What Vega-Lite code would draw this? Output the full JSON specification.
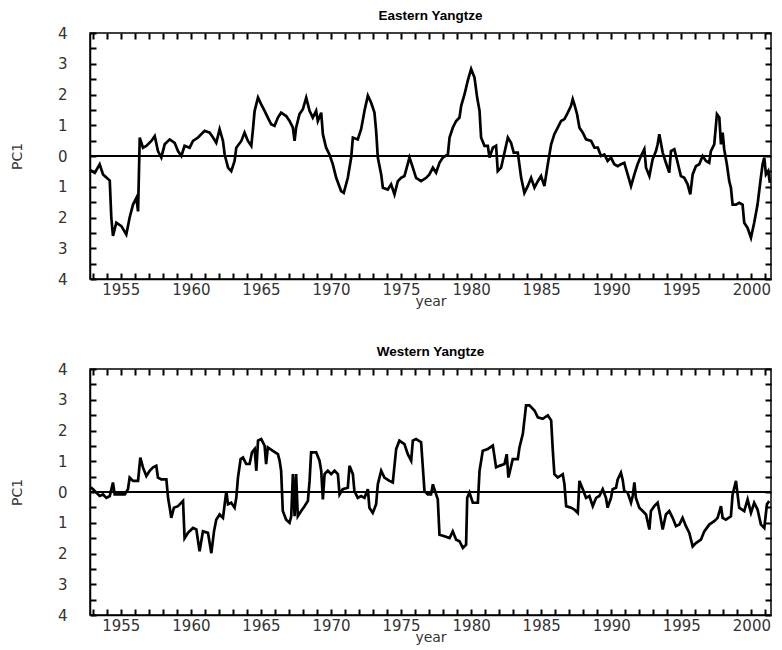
{
  "$schema": "https://vega.github.io/schema/vega-lite/v6.json",
  "background": "white",
  "padding": {"left": 9, "top": 7, "right": 5, "bottom": 5},
  "spacing": 34,
  "config": {
    "view": {"stroke": "black", "strokeWidth": 1.5},
    "font": "Liberation Sans",
    "title": {"fontSize": 13.5, "fontWeight": "bold", "font": "Liberation Sans", "color": "black", "offset": 4},
    "axis": {"domainColor": "black", "domainWidth": 1.5, "tickColor": "black", "tickWidth": 2, "tickOpacity": 1, "labelColor": "#333", "titleColor": "#333", "grid": false, "labelFont": "DejaVu Sans", "labelFontSize": 15, "titleFont": "DejaVu Sans", "titleFontSize": 14, "titleFontWeight": "normal", "labelOverlap": false, "labelFlush": false}
  },
  "datasets": {
    "east": [
      {"year": 1952.80, "pc1": -0.45}, {"year": 1953.14, "pc1": -0.55}, {"year": 1953.49, "pc1": -0.27}, {"year": 1953.73, "pc1": -0.6},
      {"year": 1953.97, "pc1": -0.7}, {"year": 1954.21, "pc1": -0.8}, {"year": 1954.32, "pc1": -2.0}, {"year": 1954.44, "pc1": -2.6},
      {"year": 1954.68, "pc1": -2.17}, {"year": 1955.04, "pc1": -2.28}, {"year": 1955.39, "pc1": -2.55}, {"year": 1955.63, "pc1": -2.0},
      {"year": 1955.87, "pc1": -1.58}, {"year": 1956.11, "pc1": -1.36}, {"year": 1956.23, "pc1": -1.8}, {"year": 1956.35, "pc1": 0.6},
      {"year": 1956.58, "pc1": 0.27}, {"year": 1956.82, "pc1": 0.33}, {"year": 1957.18, "pc1": 0.49}, {"year": 1957.42, "pc1": 0.65},
      {"year": 1957.65, "pc1": 0.16}, {"year": 1957.89, "pc1": -0.05}, {"year": 1958.13, "pc1": 0.38}, {"year": 1958.49, "pc1": 0.54},
      {"year": 1958.84, "pc1": 0.43}, {"year": 1959.08, "pc1": 0.16}, {"year": 1959.32, "pc1": 0.0}, {"year": 1959.55, "pc1": 0.33},
      {"year": 1959.91, "pc1": 0.27}, {"year": 1960.15, "pc1": 0.49}, {"year": 1960.51, "pc1": 0.6}, {"year": 1960.98, "pc1": 0.82},
      {"year": 1961.34, "pc1": 0.76}, {"year": 1961.58, "pc1": 0.6}, {"year": 1961.81, "pc1": 0.43}, {"year": 1962.05, "pc1": 0.87},
      {"year": 1962.29, "pc1": 0.49}, {"year": 1962.41, "pc1": 0.05}, {"year": 1962.65, "pc1": -0.38}, {"year": 1962.88, "pc1": -0.49},
      {"year": 1963.12, "pc1": -0.16}, {"year": 1963.24, "pc1": 0.27}, {"year": 1963.60, "pc1": 0.49}, {"year": 1963.83, "pc1": 0.76},
      {"year": 1964.07, "pc1": 0.49}, {"year": 1964.31, "pc1": 0.33}, {"year": 1964.43, "pc1": 0.87}, {"year": 1964.55, "pc1": 1.47},
      {"year": 1964.79, "pc1": 1.9}, {"year": 1965.02, "pc1": 1.68}, {"year": 1965.26, "pc1": 1.47}, {"year": 1965.49, "pc1": 1.25},
      {"year": 1965.73, "pc1": 1.03}, {"year": 1965.97, "pc1": 0.98}, {"year": 1966.21, "pc1": 1.25}, {"year": 1966.44, "pc1": 1.41},
      {"year": 1966.80, "pc1": 1.3}, {"year": 1967.04, "pc1": 1.14}, {"year": 1967.28, "pc1": 0.92}, {"year": 1967.40, "pc1": 0.49},
      {"year": 1967.51, "pc1": 0.92}, {"year": 1967.75, "pc1": 1.36}, {"year": 1967.99, "pc1": 1.52}, {"year": 1968.23, "pc1": 1.9},
      {"year": 1968.47, "pc1": 1.47}, {"year": 1968.70, "pc1": 1.25}, {"year": 1968.94, "pc1": 1.47}, {"year": 1969.06, "pc1": 1.14},
      {"year": 1969.30, "pc1": 1.41}, {"year": 1969.42, "pc1": 0.71}, {"year": 1969.65, "pc1": 0.27}, {"year": 1969.89, "pc1": 0.05},
      {"year": 1970.13, "pc1": -0.27}, {"year": 1970.37, "pc1": -0.71}, {"year": 1970.72, "pc1": -1.14}, {"year": 1970.91, "pc1": -1.2},
      {"year": 1971.20, "pc1": -0.71}, {"year": 1971.44, "pc1": -0.05}, {"year": 1971.56, "pc1": 0.6}, {"year": 1971.91, "pc1": 0.54},
      {"year": 1972.15, "pc1": 0.87}, {"year": 1972.39, "pc1": 1.47}, {"year": 1972.63, "pc1": 1.96}, {"year": 1972.86, "pc1": 1.74},
      {"year": 1973.10, "pc1": 1.41}, {"year": 1973.22, "pc1": 0.82}, {"year": 1973.34, "pc1": -0.05}, {"year": 1973.58, "pc1": -0.6},
      {"year": 1973.70, "pc1": -1.03}, {"year": 1974.05, "pc1": -1.09}, {"year": 1974.29, "pc1": -0.92}, {"year": 1974.53, "pc1": -1.25},
      {"year": 1974.77, "pc1": -0.82}, {"year": 1975.00, "pc1": -0.71}, {"year": 1975.24, "pc1": -0.65}, {"year": 1975.60, "pc1": -0.05},
      {"year": 1975.84, "pc1": -0.38}, {"year": 1976.07, "pc1": -0.71}, {"year": 1976.43, "pc1": -0.82}, {"year": 1976.79, "pc1": -0.71},
      {"year": 1977.02, "pc1": -0.6}, {"year": 1977.27, "pc1": -0.38}, {"year": 1977.50, "pc1": -0.54}, {"year": 1977.74, "pc1": -0.22},
      {"year": 1977.98, "pc1": -0.05}, {"year": 1978.34, "pc1": 0.05}, {"year": 1978.46, "pc1": 0.6}, {"year": 1978.69, "pc1": 0.92},
      {"year": 1978.93, "pc1": 1.14}, {"year": 1979.17, "pc1": 1.25}, {"year": 1979.29, "pc1": 1.63}, {"year": 1979.53, "pc1": 2.01},
      {"year": 1979.76, "pc1": 2.45}, {"year": 1980.00, "pc1": 2.83}, {"year": 1980.24, "pc1": 2.55}, {"year": 1980.43, "pc1": 1.9},
      {"year": 1980.60, "pc1": 1.47}, {"year": 1980.71, "pc1": 0.6}, {"year": 1980.95, "pc1": 0.33}, {"year": 1981.19, "pc1": 0.33},
      {"year": 1981.31, "pc1": -0.05}, {"year": 1981.55, "pc1": 0.27}, {"year": 1981.78, "pc1": 0.33}, {"year": 1981.90, "pc1": -0.49},
      {"year": 1982.14, "pc1": -0.38}, {"year": 1982.38, "pc1": 0.11}, {"year": 1982.62, "pc1": 0.6}, {"year": 1982.85, "pc1": 0.43},
      {"year": 1983.04, "pc1": 0.11}, {"year": 1983.33, "pc1": 0.11}, {"year": 1983.57, "pc1": -0.71}, {"year": 1983.80, "pc1": -1.2},
      {"year": 1984.04, "pc1": -0.98}, {"year": 1984.28, "pc1": -0.71}, {"year": 1984.52, "pc1": -1.03}, {"year": 1984.76, "pc1": -0.82},
      {"year": 1984.99, "pc1": -0.65}, {"year": 1985.23, "pc1": -0.98}, {"year": 1985.47, "pc1": -0.27}, {"year": 1985.71, "pc1": 0.38},
      {"year": 1985.94, "pc1": 0.71}, {"year": 1986.18, "pc1": 0.92}, {"year": 1986.42, "pc1": 1.14}, {"year": 1986.66, "pc1": 1.2},
      {"year": 1986.90, "pc1": 1.41}, {"year": 1987.13, "pc1": 1.63}, {"year": 1987.25, "pc1": 1.85}, {"year": 1987.37, "pc1": 1.68},
      {"year": 1987.56, "pc1": 1.36}, {"year": 1987.73, "pc1": 0.92}, {"year": 1987.97, "pc1": 0.76}, {"year": 1988.20, "pc1": 0.54},
      {"year": 1988.56, "pc1": 0.49}, {"year": 1988.80, "pc1": 0.27}, {"year": 1989.04, "pc1": 0.27}, {"year": 1989.27, "pc1": 0.0},
      {"year": 1989.51, "pc1": 0.05}, {"year": 1989.74, "pc1": -0.16}, {"year": 1989.98, "pc1": -0.05}, {"year": 1990.22, "pc1": -0.27},
      {"year": 1990.46, "pc1": -0.33}, {"year": 1990.69, "pc1": -0.27}, {"year": 1990.93, "pc1": -0.22}, {"year": 1991.17, "pc1": -0.6},
      {"year": 1991.41, "pc1": -0.98}, {"year": 1991.65, "pc1": -0.6}, {"year": 1991.88, "pc1": -0.27}, {"year": 1992.12, "pc1": 0.0},
      {"year": 1992.36, "pc1": 0.22}, {"year": 1992.48, "pc1": -0.38}, {"year": 1992.72, "pc1": -0.65}, {"year": 1992.95, "pc1": -0.11},
      {"year": 1993.19, "pc1": 0.16}, {"year": 1993.31, "pc1": 0.38}, {"year": 1993.43, "pc1": 0.71}, {"year": 1993.67, "pc1": 0.11},
      {"year": 1993.90, "pc1": -0.22}, {"year": 1994.14, "pc1": -0.54}, {"year": 1994.26, "pc1": 0.16}, {"year": 1994.50, "pc1": 0.22},
      {"year": 1994.74, "pc1": -0.22}, {"year": 1994.97, "pc1": -0.65}, {"year": 1995.21, "pc1": -0.71}, {"year": 1995.45, "pc1": -0.92},
      {"year": 1995.64, "pc1": -1.25}, {"year": 1995.81, "pc1": -0.6}, {"year": 1996.04, "pc1": -0.33}, {"year": 1996.28, "pc1": -0.27},
      {"year": 1996.52, "pc1": 0.0}, {"year": 1996.76, "pc1": -0.16}, {"year": 1996.99, "pc1": -0.22}, {"year": 1997.11, "pc1": 0.16},
      {"year": 1997.35, "pc1": 0.38}, {"year": 1997.54, "pc1": 1.36}, {"year": 1997.71, "pc1": 1.25}, {"year": 1997.83, "pc1": 0.38},
      {"year": 1997.95, "pc1": 0.76}, {"year": 1998.06, "pc1": 0.22}, {"year": 1998.25, "pc1": -0.27}, {"year": 1998.42, "pc1": -0.82},
      {"year": 1998.54, "pc1": -1.03}, {"year": 1998.66, "pc1": -1.58}, {"year": 1998.90, "pc1": -1.58}, {"year": 1999.13, "pc1": -1.52},
      {"year": 1999.37, "pc1": -1.58}, {"year": 1999.49, "pc1": -2.17}, {"year": 1999.73, "pc1": -2.34}, {"year": 1999.97, "pc1": -2.66},
      {"year": 2000.20, "pc1": -2.17}, {"year": 2000.44, "pc1": -1.58}, {"year": 2000.63, "pc1": -0.87}, {"year": 2000.80, "pc1": -0.27},
      {"year": 2000.92, "pc1": -0.05}, {"year": 2001.04, "pc1": -0.6}, {"year": 2001.20, "pc1": -0.49}, {"year": 2001.32, "pc1": -0.87}
    ],
    "west": [
      {"year": 1952.85, "pc1": 0.15}, {"year": 1953.02, "pc1": 0.09}, {"year": 1953.25, "pc1": -0.02}, {"year": 1953.49, "pc1": -0.13},
      {"year": 1953.73, "pc1": -0.08}, {"year": 1953.97, "pc1": -0.19}, {"year": 1954.21, "pc1": -0.13}, {"year": 1954.44, "pc1": 0.31},
      {"year": 1954.56, "pc1": -0.08}, {"year": 1954.92, "pc1": -0.08}, {"year": 1955.28, "pc1": -0.08}, {"year": 1955.51, "pc1": 0.09},
      {"year": 1955.63, "pc1": 0.47}, {"year": 1955.87, "pc1": 0.36}, {"year": 1956.23, "pc1": 0.36}, {"year": 1956.39, "pc1": 1.12},
      {"year": 1956.58, "pc1": 0.8}, {"year": 1956.82, "pc1": 0.52}, {"year": 1957.06, "pc1": 0.69}, {"year": 1957.30, "pc1": 0.8},
      {"year": 1957.53, "pc1": 0.85}, {"year": 1957.65, "pc1": 0.47}, {"year": 1957.89, "pc1": 0.41}, {"year": 1958.25, "pc1": 0.41},
      {"year": 1958.37, "pc1": -0.19}, {"year": 1958.49, "pc1": -0.51}, {"year": 1958.60, "pc1": -0.84}, {"year": 1958.79, "pc1": -0.51},
      {"year": 1959.08, "pc1": -0.46}, {"year": 1959.44, "pc1": -0.29}, {"year": 1959.55, "pc1": -1.5}, {"year": 1959.79, "pc1": -1.33},
      {"year": 1960.15, "pc1": -1.17}, {"year": 1960.39, "pc1": -1.22}, {"year": 1960.62, "pc1": -1.93}, {"year": 1960.86, "pc1": -1.28},
      {"year": 1961.22, "pc1": -1.33}, {"year": 1961.46, "pc1": -1.99}, {"year": 1961.65, "pc1": -1.28}, {"year": 1961.81, "pc1": -0.9},
      {"year": 1962.05, "pc1": -0.73}, {"year": 1962.29, "pc1": -0.84}, {"year": 1962.53, "pc1": 0.03}, {"year": 1962.65, "pc1": -0.4},
      {"year": 1962.88, "pc1": -0.35}, {"year": 1963.12, "pc1": -0.51}, {"year": 1963.24, "pc1": -0.19}, {"year": 1963.36, "pc1": 0.47},
      {"year": 1963.55, "pc1": 1.07}, {"year": 1963.72, "pc1": 1.12}, {"year": 1963.95, "pc1": 0.91}, {"year": 1964.19, "pc1": 0.91},
      {"year": 1964.36, "pc1": 1.29}, {"year": 1964.55, "pc1": 1.4}, {"year": 1964.67, "pc1": 0.69}, {"year": 1964.79, "pc1": 1.67},
      {"year": 1965.02, "pc1": 1.72}, {"year": 1965.26, "pc1": 1.51}, {"year": 1965.37, "pc1": 0.91}, {"year": 1965.49, "pc1": 1.45},
      {"year": 1965.85, "pc1": 1.34}, {"year": 1966.21, "pc1": 1.23}, {"year": 1966.33, "pc1": 1.02}, {"year": 1966.44, "pc1": 0.69},
      {"year": 1966.56, "pc1": -0.62}, {"year": 1966.80, "pc1": -0.9}, {"year": 1967.04, "pc1": -1.0}, {"year": 1967.16, "pc1": -0.79},
      {"year": 1967.28, "pc1": 0.58}, {"year": 1967.40, "pc1": -0.79}, {"year": 1967.51, "pc1": 0.58}, {"year": 1967.63, "pc1": -0.79},
      {"year": 1967.87, "pc1": -0.62}, {"year": 1968.11, "pc1": -0.46}, {"year": 1968.35, "pc1": -0.29}, {"year": 1968.47, "pc1": 0.36},
      {"year": 1968.58, "pc1": 1.29}, {"year": 1968.94, "pc1": 1.29}, {"year": 1969.18, "pc1": 1.02}, {"year": 1969.30, "pc1": 0.69},
      {"year": 1969.42, "pc1": -0.24}, {"year": 1969.54, "pc1": 0.58}, {"year": 1969.77, "pc1": 0.69}, {"year": 1970.01, "pc1": 0.58},
      {"year": 1970.25, "pc1": 0.69}, {"year": 1970.49, "pc1": 0.58}, {"year": 1970.61, "pc1": -0.08}, {"year": 1970.84, "pc1": 0.09},
      {"year": 1971.20, "pc1": 0.14}, {"year": 1971.32, "pc1": 0.85}, {"year": 1971.56, "pc1": 0.58}, {"year": 1971.67, "pc1": 0.03},
      {"year": 1971.91, "pc1": -0.19}, {"year": 1972.15, "pc1": -0.13}, {"year": 1972.39, "pc1": -0.19}, {"year": 1972.63, "pc1": 0.09},
      {"year": 1972.74, "pc1": -0.51}, {"year": 1972.98, "pc1": -0.68}, {"year": 1973.22, "pc1": -0.4}, {"year": 1973.34, "pc1": 0.25},
      {"year": 1973.58, "pc1": 0.69}, {"year": 1973.81, "pc1": 0.47}, {"year": 1974.17, "pc1": 0.36}, {"year": 1974.41, "pc1": 0.31},
      {"year": 1974.65, "pc1": 1.4}, {"year": 1974.88, "pc1": 1.67}, {"year": 1975.24, "pc1": 1.56}, {"year": 1975.48, "pc1": 1.23},
      {"year": 1975.72, "pc1": 1.02}, {"year": 1975.84, "pc1": 1.67}, {"year": 1976.07, "pc1": 1.72}, {"year": 1976.43, "pc1": 1.62},
      {"year": 1976.67, "pc1": 0.03}, {"year": 1976.91, "pc1": -0.08}, {"year": 1977.14, "pc1": -0.08}, {"year": 1977.27, "pc1": 0.25},
      {"year": 1977.50, "pc1": -0.08}, {"year": 1977.62, "pc1": -0.24}, {"year": 1977.74, "pc1": -1.39}, {"year": 1978.10, "pc1": -1.44},
      {"year": 1978.46, "pc1": -1.5}, {"year": 1978.69, "pc1": -1.28}, {"year": 1978.93, "pc1": -1.55}, {"year": 1979.17, "pc1": -1.6},
      {"year": 1979.41, "pc1": -1.82}, {"year": 1979.64, "pc1": -1.71}, {"year": 1979.72, "pc1": -0.19}, {"year": 1979.88, "pc1": -0.02},
      {"year": 1980.12, "pc1": -0.35}, {"year": 1980.48, "pc1": -0.35}, {"year": 1980.60, "pc1": 0.69}, {"year": 1980.83, "pc1": 1.34},
      {"year": 1981.19, "pc1": 1.4}, {"year": 1981.55, "pc1": 1.51}, {"year": 1981.78, "pc1": 0.8}, {"year": 1982.02, "pc1": 0.85},
      {"year": 1982.38, "pc1": 0.91}, {"year": 1982.54, "pc1": 1.23}, {"year": 1982.66, "pc1": 0.47}, {"year": 1982.97, "pc1": 1.07},
      {"year": 1983.33, "pc1": 1.07}, {"year": 1983.45, "pc1": 1.45}, {"year": 1983.69, "pc1": 1.89}, {"year": 1983.92, "pc1": 2.82},
      {"year": 1984.16, "pc1": 2.82}, {"year": 1984.52, "pc1": 2.65}, {"year": 1984.76, "pc1": 2.43}, {"year": 1985.11, "pc1": 2.38},
      {"year": 1985.47, "pc1": 2.49}, {"year": 1985.71, "pc1": 2.33}, {"year": 1985.83, "pc1": 1.34}, {"year": 1985.94, "pc1": 0.58},
      {"year": 1986.18, "pc1": 0.47}, {"year": 1986.54, "pc1": 0.58}, {"year": 1986.66, "pc1": 0.25}, {"year": 1986.78, "pc1": -0.46},
      {"year": 1987.13, "pc1": -0.51}, {"year": 1987.37, "pc1": -0.57}, {"year": 1987.61, "pc1": -0.68}, {"year": 1987.73, "pc1": 0.36},
      {"year": 1987.97, "pc1": 0.09}, {"year": 1988.20, "pc1": -0.19}, {"year": 1988.44, "pc1": -0.13}, {"year": 1988.68, "pc1": -0.46},
      {"year": 1988.92, "pc1": -0.19}, {"year": 1989.15, "pc1": -0.13}, {"year": 1989.27, "pc1": -0.02}, {"year": 1989.39, "pc1": 0.09},
      {"year": 1989.62, "pc1": -0.19}, {"year": 1989.74, "pc1": -0.51}, {"year": 1989.98, "pc1": -0.19}, {"year": 1990.10, "pc1": 0.09},
      {"year": 1990.34, "pc1": 0.14}, {"year": 1990.46, "pc1": 0.41}, {"year": 1990.69, "pc1": 0.63}, {"year": 1990.81, "pc1": 0.41},
      {"year": 1990.93, "pc1": 0.03}, {"year": 1991.17, "pc1": -0.02}, {"year": 1991.41, "pc1": -0.35}, {"year": 1991.53, "pc1": -0.13},
      {"year": 1991.65, "pc1": 0.31}, {"year": 1991.76, "pc1": -0.19}, {"year": 1992.00, "pc1": -0.51}, {"year": 1992.24, "pc1": -0.62},
      {"year": 1992.48, "pc1": -0.73}, {"year": 1992.72, "pc1": -1.22}, {"year": 1992.83, "pc1": -0.62}, {"year": 1993.07, "pc1": -0.46},
      {"year": 1993.31, "pc1": -0.35}, {"year": 1993.43, "pc1": -0.62}, {"year": 1993.67, "pc1": -1.22}, {"year": 1993.90, "pc1": -0.73},
      {"year": 1994.14, "pc1": -0.62}, {"year": 1994.38, "pc1": -0.84}, {"year": 1994.62, "pc1": -1.11}, {"year": 1994.86, "pc1": -1.06},
      {"year": 1995.09, "pc1": -0.84}, {"year": 1995.33, "pc1": -1.11}, {"year": 1995.57, "pc1": -1.33}, {"year": 1995.81, "pc1": -1.77},
      {"year": 1996.04, "pc1": -1.66}, {"year": 1996.40, "pc1": -1.55}, {"year": 1996.64, "pc1": -1.28}, {"year": 1996.99, "pc1": -1.06},
      {"year": 1997.35, "pc1": -0.95}, {"year": 1997.59, "pc1": -0.84}, {"year": 1997.83, "pc1": -0.46}, {"year": 1997.95, "pc1": -0.84},
      {"year": 1998.18, "pc1": -0.9}, {"year": 1998.54, "pc1": -0.79}, {"year": 1998.66, "pc1": -0.08}, {"year": 1998.90, "pc1": 0.36},
      {"year": 1999.13, "pc1": -0.51}, {"year": 1999.49, "pc1": -0.62}, {"year": 1999.73, "pc1": -0.24}, {"year": 1999.97, "pc1": -0.68},
      {"year": 2000.20, "pc1": -0.35}, {"year": 2000.44, "pc1": -0.57}, {"year": 2000.68, "pc1": -1.06}, {"year": 2000.92, "pc1": -1.17},
      {"year": 2001.11, "pc1": -0.4}, {"year": 2001.27, "pc1": -0.29}
    ]
  },
  "vconcat": [
    {
      "title": "Eastern Yangtze",
      "width": 681,
      "height": 246,
      "data": {"name": "east"},
      "layer": [
        {"mark": {"type": "rule", "color": "black", "strokeWidth": 1.2}, "encoding": {"y": {"datum": 0, "type": "quantitative", "scale": {"domain": [-4, 4], "nice": false}, "axis": null}}},
        {
          "mark": {"type": "line", "color": "black", "strokeWidth": 2.7, "strokeJoin": "miter"},
          "encoding": {
            "x": {"field": "year", "type": "quantitative", "scale": {"domain": [1952.8, 2001.4], "nice": false, "zero": false},
              "axis": {"orient": "bottom", "title": "year", "values": [1955, 1960, 1965, 1970, 1975, 1980, 1985, 1990, 1995, 2000], "ticks": false, "labelPadding": 3, "titlePadding": -3, "format": "d"}},
            "y": {"field": "pc1", "type": "quantitative", "scale": {"domain": [-4, 4], "nice": false},
              "axis": {"orient": "left", "title": "PC1", "values": [-4, -3, -2, -1, 0, 1, 2, 3, 4], "ticks": false, "labelPadding": 23, "titlePadding": 33, "labelExpr": "format(abs(datum.value), 'd')"}}
          }
        },
        {
          "mark": {"type": "line", "strokeOpacity": 0},
          "encoding": {
            "x": {"field": "year", "type": "quantitative", "axis": {"orient": "top", "offset": -246, "title": null, "labels": false, "domain": false, "ticks": true, "values": [1953,1954,1955,1956,1957,1958,1959,1960,1961,1962,1963,1964,1965,1966,1967,1968,1969,1970,1971,1972,1973,1974,1975,1976,1977,1978,1979,1980,1981,1982,1983,1984,1985,1986,1987,1988,1989,1990,1991,1992,1993,1994,1995,1996,1997,1998,1999,2000,2001], "tickSize": 6}},
            "y": {"field": "pc1", "type": "quantitative", "axis": {"orient": "right", "offset": -681, "title": null, "labels": false, "domain": false, "ticks": true, "values": [-4,-3.5,-3,-2.5,-2,-1.5,-1,-0.5,0,0.5,1,1.5,2,2.5,3,3.5,4], "tickSize": 6}}
          }
        },
        {
          "mark": {"type": "line", "strokeOpacity": 0},
          "encoding": {
            "x": {"field": "year", "type": "quantitative", "axis": {"orient": "bottom", "offset": -246, "title": null, "labels": false, "domain": false, "ticks": true, "values": [1953,1954,1955,1956,1957,1958,1959,1960,1961,1962,1963,1964,1965,1966,1967,1968,1969,1970,1971,1972,1973,1974,1975,1976,1977,1978,1979,1980,1981,1982,1983,1984,1985,1986,1987,1988,1989,1990,1991,1992,1993,1994,1995,1996,1997,1998,1999,2000,2001], "tickSize": 6}},
            "y": {"field": "pc1", "type": "quantitative", "axis": {"orient": "left", "offset": -681, "title": null, "labels": false, "domain": false, "ticks": true, "values": [-4,-3.5,-3,-2.5,-2,-1.5,-1,-0.5,0,0.5,1,1.5,2,2.5,3,3.5,4], "tickSize": 6}}
          }
        }
      ],
      "resolve": {"axis": {"x": "independent", "y": "independent"}}
    },
    {
      "title": "Western Yangtze",
      "width": 681,
      "height": 246,
      "data": {"name": "west"},
      "layer": [
        {"mark": {"type": "rule", "color": "black", "strokeWidth": 1.2}, "encoding": {"y": {"datum": 0, "type": "quantitative", "scale": {"domain": [-4, 4], "nice": false}, "axis": null}}},
        {
          "mark": {"type": "line", "color": "black", "strokeWidth": 2.7, "strokeJoin": "miter"},
          "encoding": {
            "x": {"field": "year", "type": "quantitative", "scale": {"domain": [1952.8, 2001.4], "nice": false, "zero": false},
              "axis": {"orient": "bottom", "title": "year", "values": [1955, 1960, 1965, 1970, 1975, 1980, 1985, 1990, 1995, 2000], "ticks": false, "labelPadding": 3, "titlePadding": -3, "format": "d"}},
            "y": {"field": "pc1", "type": "quantitative", "scale": {"domain": [-4, 4], "nice": false},
              "axis": {"orient": "left", "title": "PC1", "values": [-4, -3, -2, -1, 0, 1, 2, 3, 4], "ticks": false, "labelPadding": 23, "titlePadding": 33, "labelExpr": "format(abs(datum.value), 'd')"}}
          }
        },
        {
          "mark": {"type": "line", "strokeOpacity": 0},
          "encoding": {
            "x": {"field": "year", "type": "quantitative", "axis": {"orient": "top", "offset": -246, "title": null, "labels": false, "domain": false, "ticks": true, "values": [1953,1954,1955,1956,1957,1958,1959,1960,1961,1962,1963,1964,1965,1966,1967,1968,1969,1970,1971,1972,1973,1974,1975,1976,1977,1978,1979,1980,1981,1982,1983,1984,1985,1986,1987,1988,1989,1990,1991,1992,1993,1994,1995,1996,1997,1998,1999,2000,2001], "tickSize": 6}},
            "y": {"field": "pc1", "type": "quantitative", "axis": {"orient": "right", "offset": -681, "title": null, "labels": false, "domain": false, "ticks": true, "values": [-4,-3.5,-3,-2.5,-2,-1.5,-1,-0.5,0,0.5,1,1.5,2,2.5,3,3.5,4], "tickSize": 6}}
          }
        },
        {
          "mark": {"type": "line", "strokeOpacity": 0},
          "encoding": {
            "x": {"field": "year", "type": "quantitative", "axis": {"orient": "bottom", "offset": -246, "title": null, "labels": false, "domain": false, "ticks": true, "values": [1953,1954,1955,1956,1957,1958,1959,1960,1961,1962,1963,1964,1965,1966,1967,1968,1969,1970,1971,1972,1973,1974,1975,1976,1977,1978,1979,1980,1981,1982,1983,1984,1985,1986,1987,1988,1989,1990,1991,1992,1993,1994,1995,1996,1997,1998,1999,2000,2001], "tickSize": 6}},
            "y": {"field": "pc1", "type": "quantitative", "axis": {"orient": "left", "offset": -681, "title": null, "labels": false, "domain": false, "ticks": true, "values": [-4,-3.5,-3,-2.5,-2,-1.5,-1,-0.5,0,0.5,1,1.5,2,2.5,3,3.5,4], "tickSize": 6}}
          }
        }
      ],
      "resolve": {"axis": {"x": "independent", "y": "independent"}}
    }
  ]
}
